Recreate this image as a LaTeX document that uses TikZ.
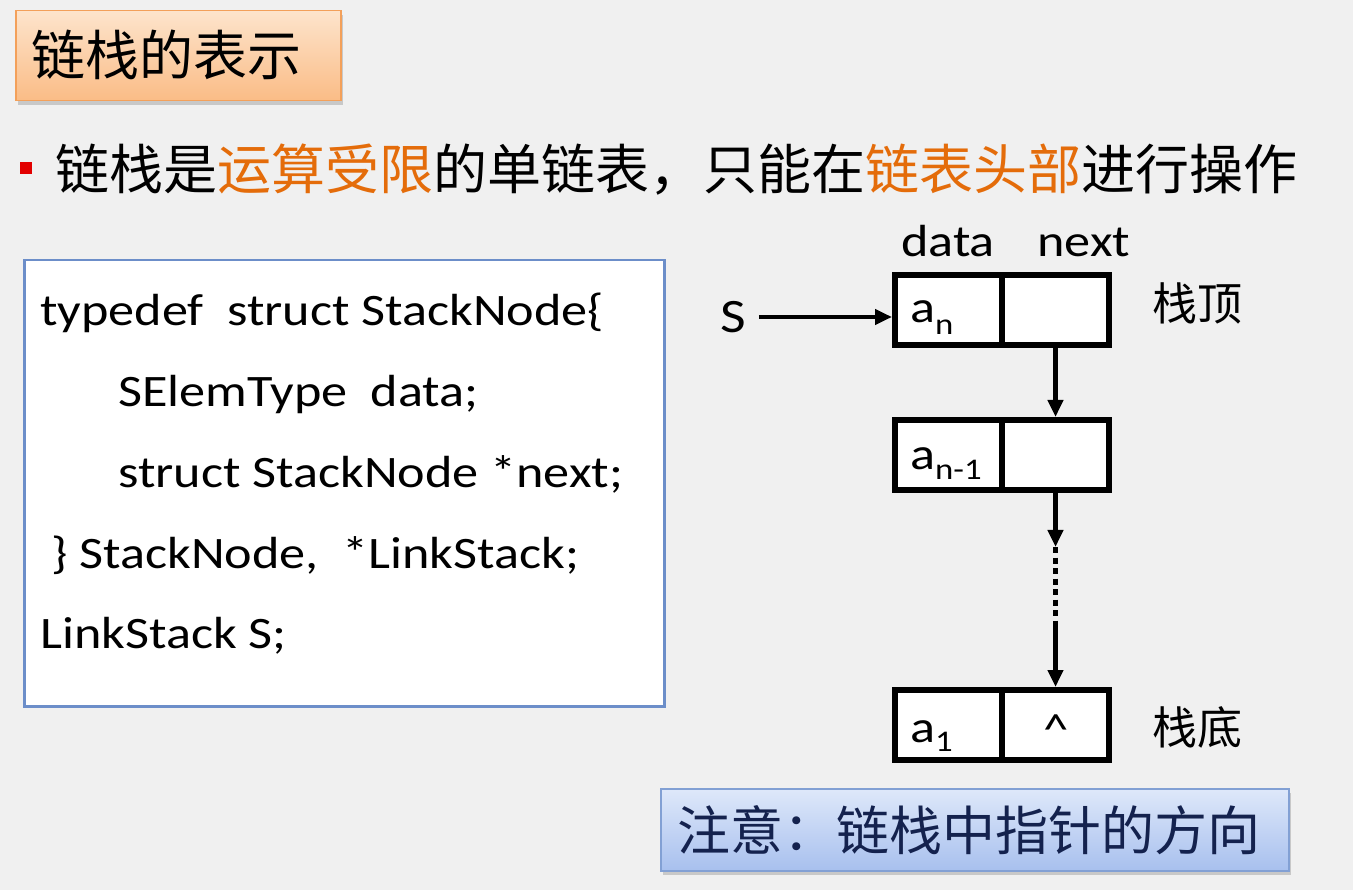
\documentclass[tikz,border=0pt]{standalone}
\usepackage{fontspec}
\setmainfont[FakeStretch=1.16]{Carlito}
\newfontfamily\cjk{Noto Sans CJK SC}
\usetikzlibrary{arrows.meta,shadows}
\definecolor{bgc}{RGB}{240,240,240}
\definecolor{ttop}{RGB}{253,228,204}
\definecolor{tbot}{RGB}{250,188,134}
\definecolor{tborder}{RGB}{243,160,90}
\definecolor{hiorange}{RGB}{228,108,10}
\definecolor{bulletred}{RGB}{226,0,0}
\definecolor{codeborder}{RGB}{108,142,201}
\definecolor{ntop}{RGB}{222,232,250}
\definecolor{nbot}{RGB}{168,192,238}
\definecolor{nborder}{RGB}{130,160,212}
\definecolor{ntext}{RGB}{20,34,78}
\newcommand{\setfs}[1]{\fontsize{#1}{#1}\selectfont}
\newcommand{\mysub}[2]{\raisebox{#1}{\setfs{30}#2}}
\begin{document}
\begin{tikzpicture}[x=1pt,y=-1pt,
  codeline/.style={anchor=base west,inner sep=0pt,font=\setfs{45}},
  cell/.style={draw=black,line width=6pt,fill=white,minimum width=107pt,minimum height=70pt,inner sep=0pt},
  celltext/.style={anchor=base west,inner sep=0pt,font=\setfs{45}},
  arr/.style={line width=4.5pt,-{Triangle[length=17pt,width=15pt]}},
  cjkt/.style={inner sep=0pt,font=\cjk\setfs{#1}}
]
\useasboundingbox (0,0) rectangle (1353,890);
\fill[bgc] (0,0) rectangle (1353,890);

% title
\node[draw=tborder,line width=1.5pt,top color=ttop,bottom color=tbot,
  minimum width=325pt,minimum height=90pt,anchor=north west,inner sep=0pt,
  drop shadow={opacity=0.35,shadow xshift=2pt,shadow yshift=-4pt}] (title) at (15,10) {};
\node[cjkt=54,anchor=west] (titletext) at (31,55) {链栈的表示};

% bullet line
\node[fill=bulletred,minimum width=12pt,minimum height=12pt,inner sep=0pt] (bullet) at (26,168) {};
\node[cjkt=54,anchor=west] (bullettext) at (55,170) {链栈是\textcolor{hiorange}{运算受限}的单链表，只能在\textcolor{hiorange}{链表头部}进行操作};

% code box
\node[draw=codeborder,line width=2.5pt,fill=white,minimum width=640pt,minimum height=446pt,
  anchor=north west,inner sep=0pt] (code) at (23,259) {};
\node[codeline] (c1) at (40,326) {typedef\ \ struct StackNode\{};
\node[codeline] (c2) at (118,407) {SElemType\ \ data;};
\node[codeline] (c3) at (118,488) {struct StackNode *next;};
\node[codeline] (c4) at (51,568) {\} StackNode,\ \ *LinkStack;};
\node[codeline] (c5) at (40,648) {LinkStack S;};

% stack nodes
\node[font=\setfs{45},anchor=base,inner sep=0pt] (hdata) at (948,257) {data};
\node[font=\setfs{45},anchor=base,inner sep=0pt] (hnext) at (1084,257) {next};

\node[cell] (n1d) at (948.5,310) {};
\node[cell] (n1n) at (1055.5,310) {};
\node[cell] (n2d) at (948.5,455) {};
\node[cell] (n2n) at (1055.5,455) {};
\node[cell] (n3d) at (948.5,725) {};
\node[cell] (n3n) at (1055.5,725) {};

\node[celltext] (t1) at (910,323) {a\mysub{-12pt}{n}};
\node[celltext] (t2) at (910,470) {a\mysub{-10pt}{n-1}};
\node[celltext] (t3) at (910,742) {a\mysub{-9pt}{1}};
\node[font=\setfs{44},anchor=base,inner sep=0pt] (caret) at (1056,744) {\textasciicircum};

\node[font=\setfs{48},inner sep=0pt] (S) at (733,317) {S};
\draw[arr,shorten <=13pt] (S.east) -- (S.east -| n1d.west);

\coordinate (d1) at (1055.5,547);
\coordinate (d2) at (1055.5,621);
\draw[arr] (n1n.south) -- (n2n.north);
\draw[arr] (n2n.south) -- (d1);
\draw[line width=4.5pt,dash pattern=on 6pt off 4.5pt] (d1) -- (d2);
\draw[arr] (d2) -- (n3n.north);

\node[cjkt=45,anchor=west] (top) at (1152,303) {栈顶};
\node[cjkt=45,anchor=west] (bottom) at (1152,727) {栈底};

% note box
\node[draw=nborder,line width=1.5pt,top color=ntop,bottom color=nbot,
  minimum width=628pt,minimum height=82pt,anchor=north west,inner sep=0pt,
  drop shadow={opacity=0.35,shadow xshift=2pt,shadow yshift=-4pt}] (note) at (660,788) {};
\node[cjkt=53,anchor=west,text=ntext] (notetext) at (677,830) {注意：链栈中指针的方向};
\end{tikzpicture}
\end{document}
